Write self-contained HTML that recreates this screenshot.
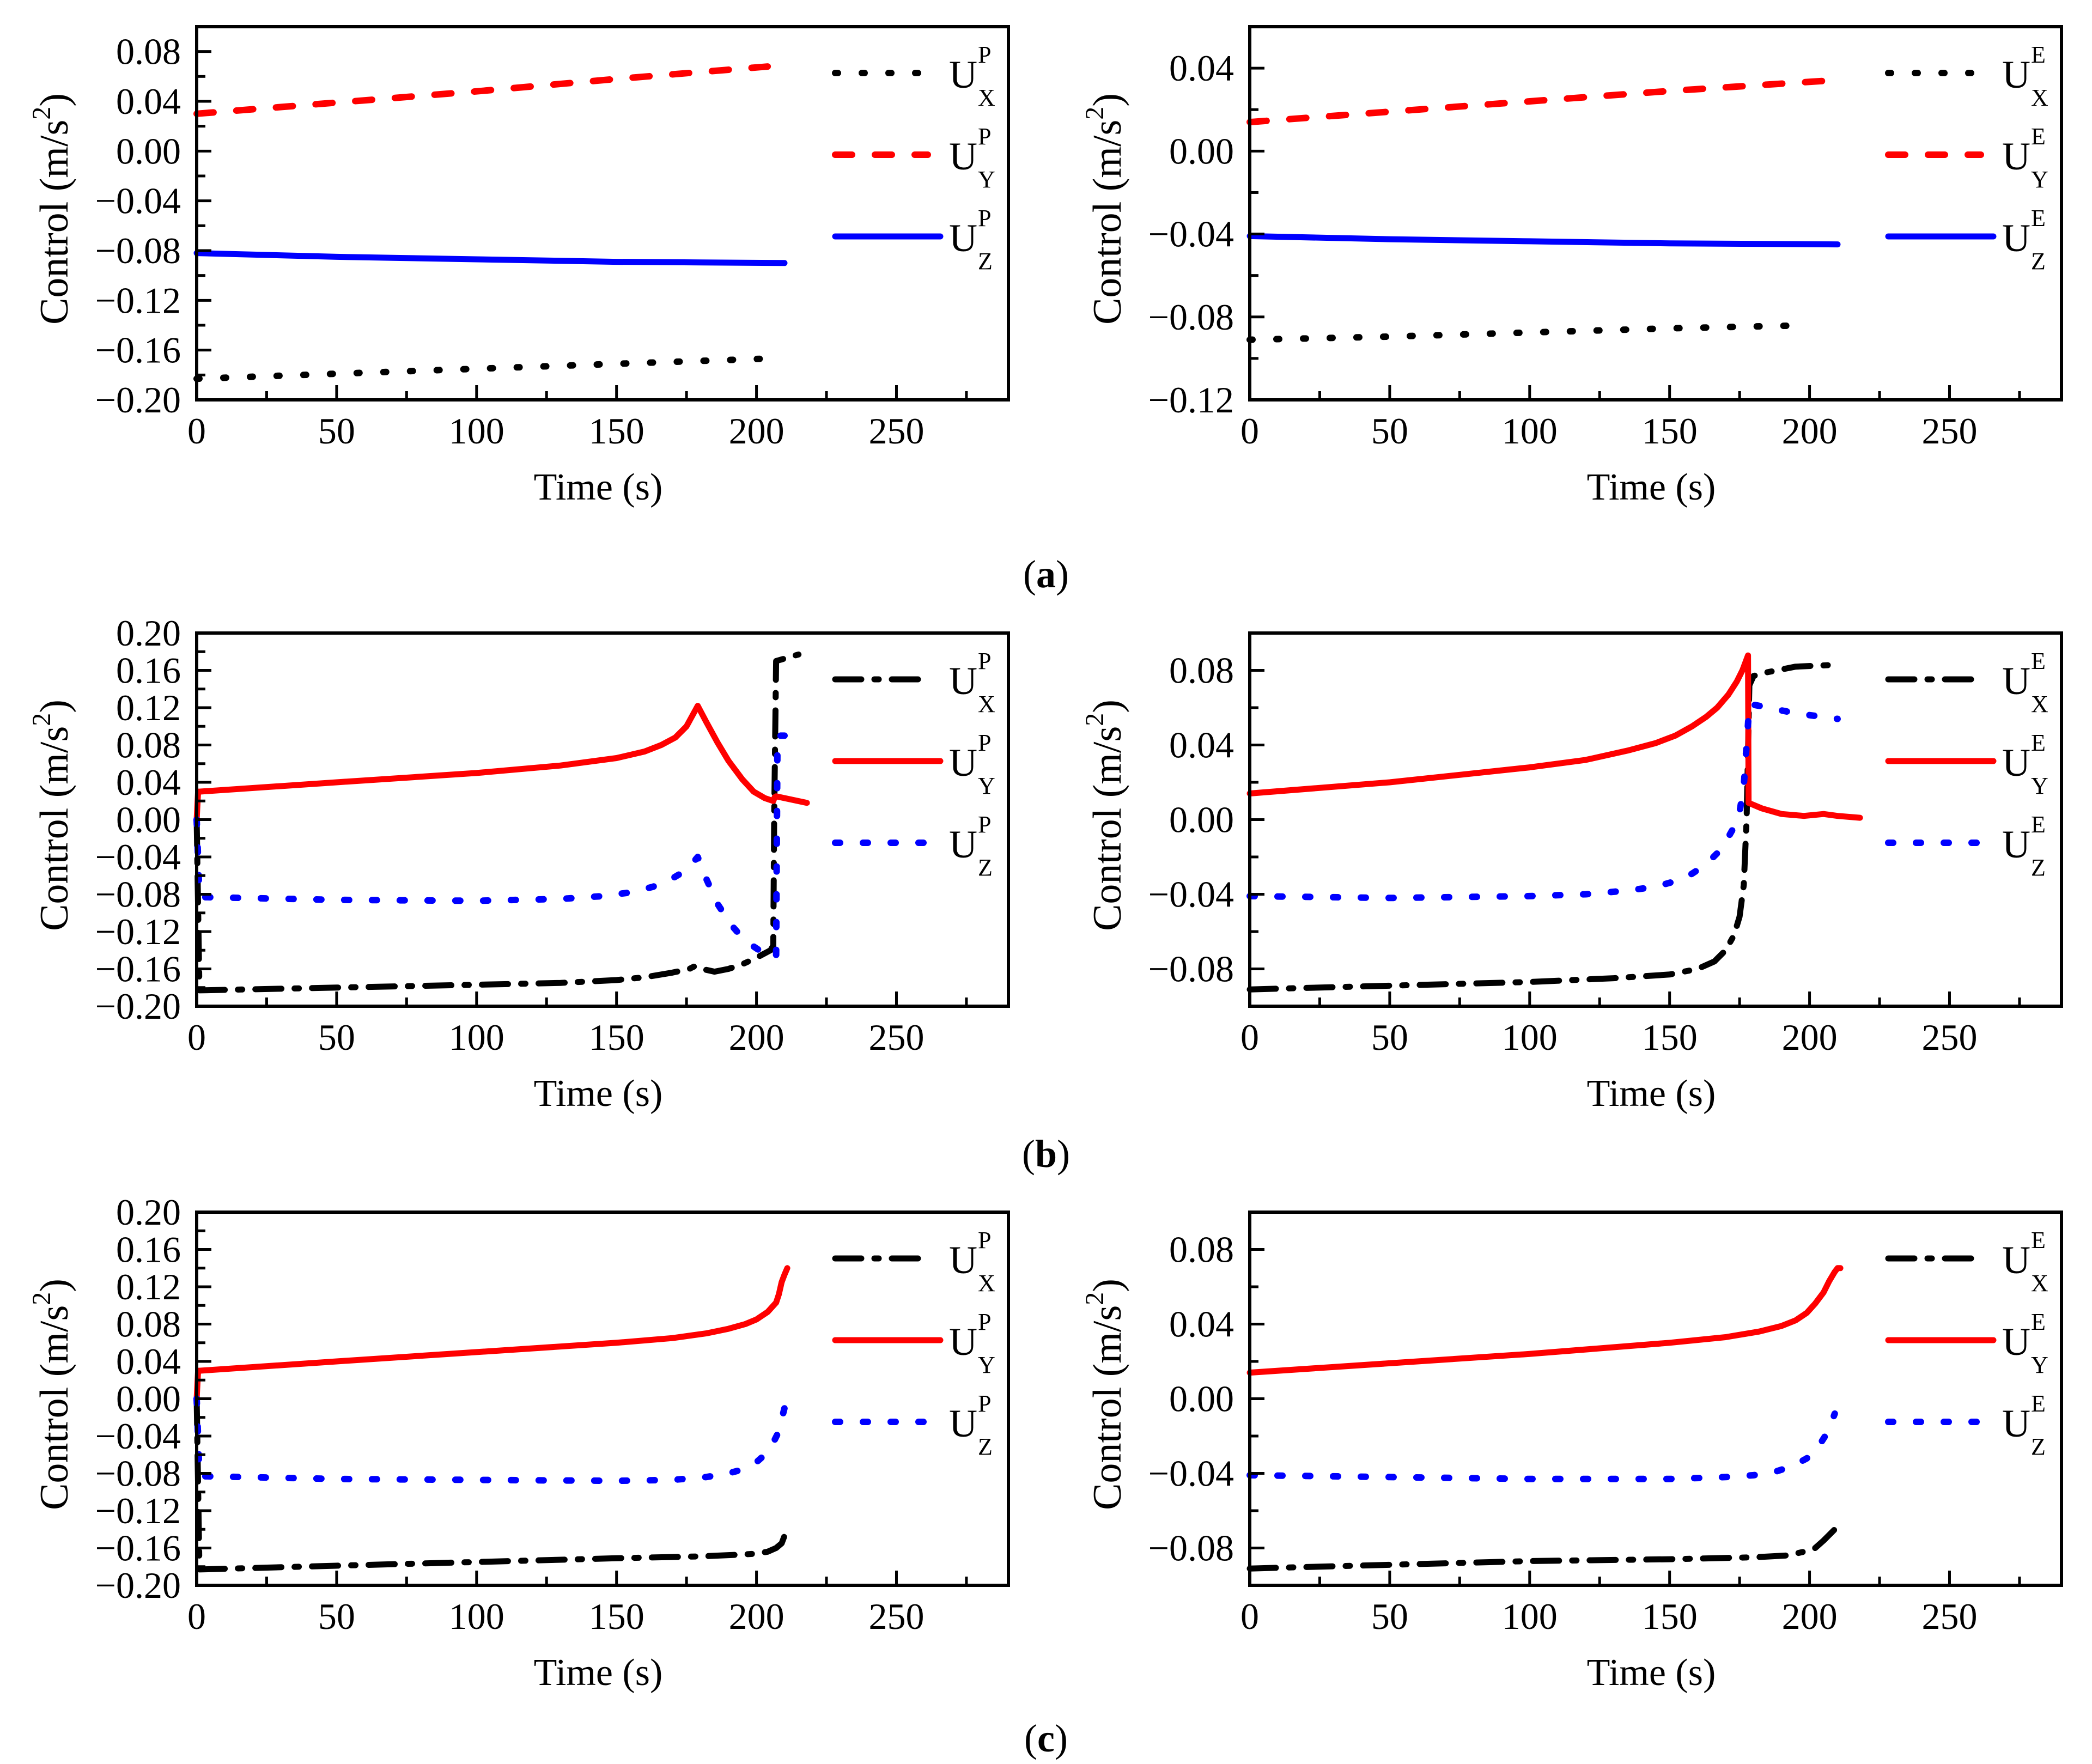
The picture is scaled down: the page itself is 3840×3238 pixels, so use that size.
<!DOCTYPE html>
<html><head><meta charset="utf-8">
<style>
html,body{margin:0;padding:0;background:#fff;}
svg{display:block;}
text{font-family:"Liberation Serif",serif;fill:#000;}
</style></head>
<body>
<svg id="fig" width="3840" height="3238" viewBox="0 0 3840 3238" xmlns="http://www.w3.org/2000/svg">
<text x="1920" y="1078" text-anchor="middle" font-size="72">(<tspan font-weight="bold">a</tspan>)</text>
<text x="1920" y="2142" text-anchor="middle" font-size="72">(<tspan font-weight="bold">b</tspan>)</text>
<text x="1920" y="3215" text-anchor="middle" font-size="72">(<tspan font-weight="bold">c</tspan>)</text>
</svg>
<script>
// ---- data (time in s, control in m/s^2) ----
const aP_Ux_t=[0,50,100,150,202];
const aP_Ux_v=[-0.183,-0.179,-0.175,-0.171,-0.167];
const aP_Uy_t=[0,50,100,150,204];
const aP_Uy_v=[0.030,0.039,0.048,0.058,0.068];
const aP_Uz_t=[0,50,100,150,180,210];
const aP_Uz_v=[-0.082,-0.085,-0.087,-0.089,-0.0895,-0.090];
const aE_Ux_t=[0,50,100,150,200];
const aE_Ux_v=[-0.091,-0.0895,-0.0875,-0.0855,-0.084];
const aE_Uy_t=[0,50,100,150,207];
const aE_Uy_v=[0.014,0.019,0.024,0.029,0.034];
const aE_Uz_t=[0,50,100,150,210];
const aE_Uz_v=[-0.041,-0.0425,-0.0435,-0.0445,-0.045];

const bP_Ux_t=[0,1,50,100,130,150,160,170,176,178,182,185,190,195,200,205,206,206.3,207,215];
const bP_Ux_v=[0,-0.183,-0.180,-0.177,-0.175,-0.172,-0.169,-0.164,-0.160,-0.157,-0.161,-0.163,-0.160,-0.155,-0.148,-0.140,-0.135,0.0,0.170,0.177];
const bP_Uy_t=[0,0.5,1,50,100,130,150,160,166,171,175,179,182,186,190,195,199,203,206,206.5,207,218];
const bP_Uy_v=[0,0.03,0.030,0.040,0.050,0.058,0.066,0.073,0.080,0.088,0.100,0.122,0.105,0.083,0.063,0.043,0.030,0.023,0.020,0.024,0.025,0.018];
const bP_Uz_t=[0,1,50,100,130,145,155,163,170,175,179,182,186,191,196,201,205,207,207.5,210];
const bP_Uz_v=[0,-0.083,-0.086,-0.087,-0.085,-0.082,-0.078,-0.072,-0.063,-0.054,-0.040,-0.063,-0.090,-0.113,-0.130,-0.140,-0.145,-0.148,0.090,0.090];

const bE_Ux_t=[0,50,100,130,150,160,166,170,173,175,176.5,177.5,178.5,180,185,195,210];
const bE_Ux_v=[-0.091,-0.089,-0.087,-0.085,-0.083,-0.080,-0.076,-0.070,-0.062,-0.052,-0.035,0.000,0.072,0.077,0.079,0.082,0.083];
const bE_Uy_t=[0,50,100,120,135,145,152,158,163,167,171,174,176,178,178.2,183,190,198,205,210,218];
const bE_Uy_v=[0.014,0.020,0.028,0.032,0.037,0.041,0.045,0.050,0.055,0.060,0.067,0.074,0.080,0.088,0.009,0.006,0.003,0.002,0.003,0.002,0.001];
const bE_Uz_t=[0,50,100,120,135,145,152,158,163,167,170,173,175,176.5,177.5,178.5,182,195,210];
const bE_Uz_v=[-0.041,-0.042,-0.041,-0.040,-0.038,-0.036,-0.033,-0.029,-0.024,-0.018,-0.012,-0.004,0.004,0.018,0.040,0.062,0.061,0.057,0.054];

const cP_Ux_t=[0,1,50,100,150,180,195,200,204,207,209,210];
const cP_Ux_v=[0,-0.183,-0.179,-0.175,-0.171,-0.169,-0.167,-0.166,-0.164,-0.160,-0.155,-0.147];
const cP_Uy_t=[0,0.5,1,50,100,150,170,182,190,196,200,204,207,208,209,210,211];
const cP_Uy_v=[0,0.03,0.030,0.040,0.050,0.060,0.065,0.070,0.075,0.080,0.085,0.093,0.103,0.112,0.125,0.133,0.140];
const cP_Uz_t=[0,1,50,100,150,170,182,190,196,200,203,206,208,209,210];
const cP_Uz_v=[0,-0.083,-0.086,-0.087,-0.088,-0.087,-0.084,-0.080,-0.075,-0.068,-0.060,-0.047,-0.035,-0.022,-0.010];

const cE_Ux_t=[0,50,100,150,180,192,198,202,205,207,209];
const cE_Ux_v=[-0.091,-0.089,-0.087,-0.086,-0.085,-0.084,-0.082,-0.080,-0.076,-0.073,-0.070];
const cE_Uy_t=[0,50,100,150,170,182,190,195,199,202,205,207,209,210,211];
const cE_Uy_v=[0.014,0.019,0.024,0.030,0.033,0.036,0.039,0.042,0.046,0.051,0.057,0.063,0.068,0.070,0.070];
const cE_Uz_t=[0,50,100,150,170,180,188,194,199,203,206,208,209];
const cE_Uz_v=[-0.041,-0.042,-0.043,-0.043,-0.042,-0.041,-0.039,-0.036,-0.032,-0.026,-0.019,-0.012,-0.008];

const xTicks=[0,50,100,150,200,250];
const yTicksPL=[-0.20,-0.16,-0.12,-0.08,-0.04,0.00,0.04,0.08];
const yTicksPB=[-0.20,-0.16,-0.12,-0.08,-0.04,0.00,0.04,0.08,0.12,0.16,0.20];
const yTicksEA=[-0.12,-0.08,-0.04,0.00,0.04];
const yTicksEB=[-0.08,-0.04,0.00,0.04,0.08];

const NS="http://www.w3.org/2000/svg";
const svg=document.getElementById('fig');
function mk(tag,attrs,parent){const e=document.createElementNS(NS,tag);for(const k in attrs)e.setAttribute(k,attrs[k]);(parent||svg).appendChild(e);return e;}

const STY={
 dot:{dash:"5 44",w:12},
 dash:{dash:"31 42",w:12},
 solid:{dash:"none",w:11},
 dashdot:{dash:"48 24 8 24",w:11},
 bdot:{dash:"9 42",w:12}
};

function panel(name,L,T,ymin,ymax,yTicks,minorStep,series,sup){
 const R=L+1490,B=T+685,xmax=290;
 const g=mk('g',{});
 
 
 const X=t=>L+(t/xmax)*(R-L);
 const Y=v=>B-(v-ymin)/(ymax-ymin)*(B-T);
 series.forEach(s=>{
  const pts=s.t.map((t,i)=>X(t).toFixed(1)+','+Y(s.v[i]).toFixed(1)).join(' ');
  const st=STY[s.style];
  const p=mk('polyline',{points:pts,fill:'none',stroke:s.color,'stroke-width':st.w,'stroke-linecap':'round','stroke-linejoin':'round','stroke-dasharray':st.dash},g);
  
  
 });
 const fr=mk('rect',{x:L,y:T,width:R-L,height:B-T,fill:'none',stroke:'#000','stroke-width':6},g);
 
 
 for(let t=0;t<=275;t+=25){
  const major=t%50===0;
  mk('line',{x1:X(t),x2:X(t),y1:B,y2:B-(major?27:16),stroke:'#000','stroke-width':5},g);
 }
 xTicks.forEach(t=>{
  const tx=mk('text',{x:X(t),y:B+80,'text-anchor':'middle','font-size':68},g);
  tx.textContent=String(t);
  
  
 });
 const n=Math.round((ymax-ymin)/minorStep);
 for(let i=1;i<n;i++){
  const v=ymin+i*minorStep;
  const major=yTicks.some(y=>Math.abs(y-v)<1e-6);
  mk('line',{x1:L,x2:L+(major?27:16),y1:Y(v),y2:Y(v),stroke:'#000','stroke-width':5},g);
 }
 yTicks.forEach(v=>{
  const tx=mk('text',{x:L-29,y:Y(v)+23,'text-anchor':'end','font-size':68},g);
  tx.textContent=(v<0?'\u2212':'')+Math.abs(v).toFixed(2);
  
  
 });
 const xt=mk('text',{x:(L+R)/2-8,y:B+183,'text-anchor':'middle','font-size':70},g);
 xt.textContent='Time (s)';
 
 
 const cy=(T+B)/2-8, cx=L-237;
 const yt=mk('text',{x:cx,y:cy,'text-anchor':'middle','font-size':74,transform:`rotate(-90 ${cx} ${cy})`},g);
 yt.innerHTML='Control (m/s<tspan dy="-32" font-size="48">2</tspan><tspan dy="32">)</tspan>';
 
 
 series.forEach((s,i)=>{
  const ly=T+85+i*150;
  const st=STY[s.style];
  const ll=mk('line',{x1:L+1172,x2:L+(s.style==='solid'?1365:(s.style==='dashdot'?1335:1342)),y1:ly,y2:ly,stroke:s.color,'stroke-width':st.w,'stroke-linecap':'round','stroke-dasharray':st.dash},g);
  
  
  const u=mk('text',{x:L+1381,y:ly+27,'font-size':72},g);
  u.textContent='U';
  
  
  const sp=mk('text',{x:L+1434,y:ly-19,'font-size':44},g);
  sp.textContent=sup;
  const sb=mk('text',{x:L+1434,y:ly+60,'font-size':44},g);
  sb.textContent=['X','Y','Z'][i];
 });
}

panel('chart-a-pursuer',361,49,-0.2,0.1,yTicksPL,0.02,[
 {name:'series-ux-p',t:aP_Ux_t,v:aP_Ux_v,color:'#000',style:'dot'},
 {name:'series-uy-p',t:aP_Uy_t,v:aP_Uy_v,color:'#ff0000',style:'dash'},
 {name:'series-uz-p',t:aP_Uz_t,v:aP_Uz_v,color:'#0000ff',style:'solid'}],'P');
panel('chart-a-evader',2294,49,-0.12,0.06,yTicksEA,0.02,[
 {name:'series-ux-e',t:aE_Ux_t,v:aE_Ux_v,color:'#000',style:'dot'},
 {name:'series-uy-e',t:aE_Uy_t,v:aE_Uy_v,color:'#ff0000',style:'dash'},
 {name:'series-uz-e',t:aE_Uz_t,v:aE_Uz_v,color:'#0000ff',style:'solid'}],'E');
panel('chart-b-pursuer',361,1162,-0.2,0.2,yTicksPB,0.02,[
 {name:'series-ux-p',t:bP_Ux_t,v:bP_Ux_v,color:'#000',style:'dashdot'},
 {name:'series-uy-p',t:bP_Uy_t,v:bP_Uy_v,color:'#ff0000',style:'solid'},
 {name:'series-uz-p',t:bP_Uz_t,v:bP_Uz_v,color:'#0000ff',style:'bdot'}],'P');
panel('chart-b-evader',2294,1162,-0.1,0.1,yTicksEB,0.02,[
 {name:'series-ux-e',t:bE_Ux_t,v:bE_Ux_v,color:'#000',style:'dashdot'},
 {name:'series-uy-e',t:bE_Uy_t,v:bE_Uy_v,color:'#ff0000',style:'solid'},
 {name:'series-uz-e',t:bE_Uz_t,v:bE_Uz_v,color:'#0000ff',style:'bdot'}],'E');
panel('chart-c-pursuer',361,2225,-0.2,0.2,yTicksPB,0.02,[
 {name:'series-ux-p',t:cP_Ux_t,v:cP_Ux_v,color:'#000',style:'dashdot'},
 {name:'series-uy-p',t:cP_Uy_t,v:cP_Uy_v,color:'#ff0000',style:'solid'},
 {name:'series-uz-p',t:cP_Uz_t,v:cP_Uz_v,color:'#0000ff',style:'bdot'}],'P');
panel('chart-c-evader',2294,2225,-0.1,0.1,yTicksEB,0.02,[
 {name:'series-ux-e',t:cE_Ux_t,v:cE_Ux_v,color:'#000',style:'dashdot'},
 {name:'series-uy-e',t:cE_Uy_t,v:cE_Uy_v,color:'#ff0000',style:'solid'},
 {name:'series-uz-e',t:cE_Uz_t,v:cE_Uz_v,color:'#0000ff',style:'bdot'}],'E');
</script>
</body></html>
